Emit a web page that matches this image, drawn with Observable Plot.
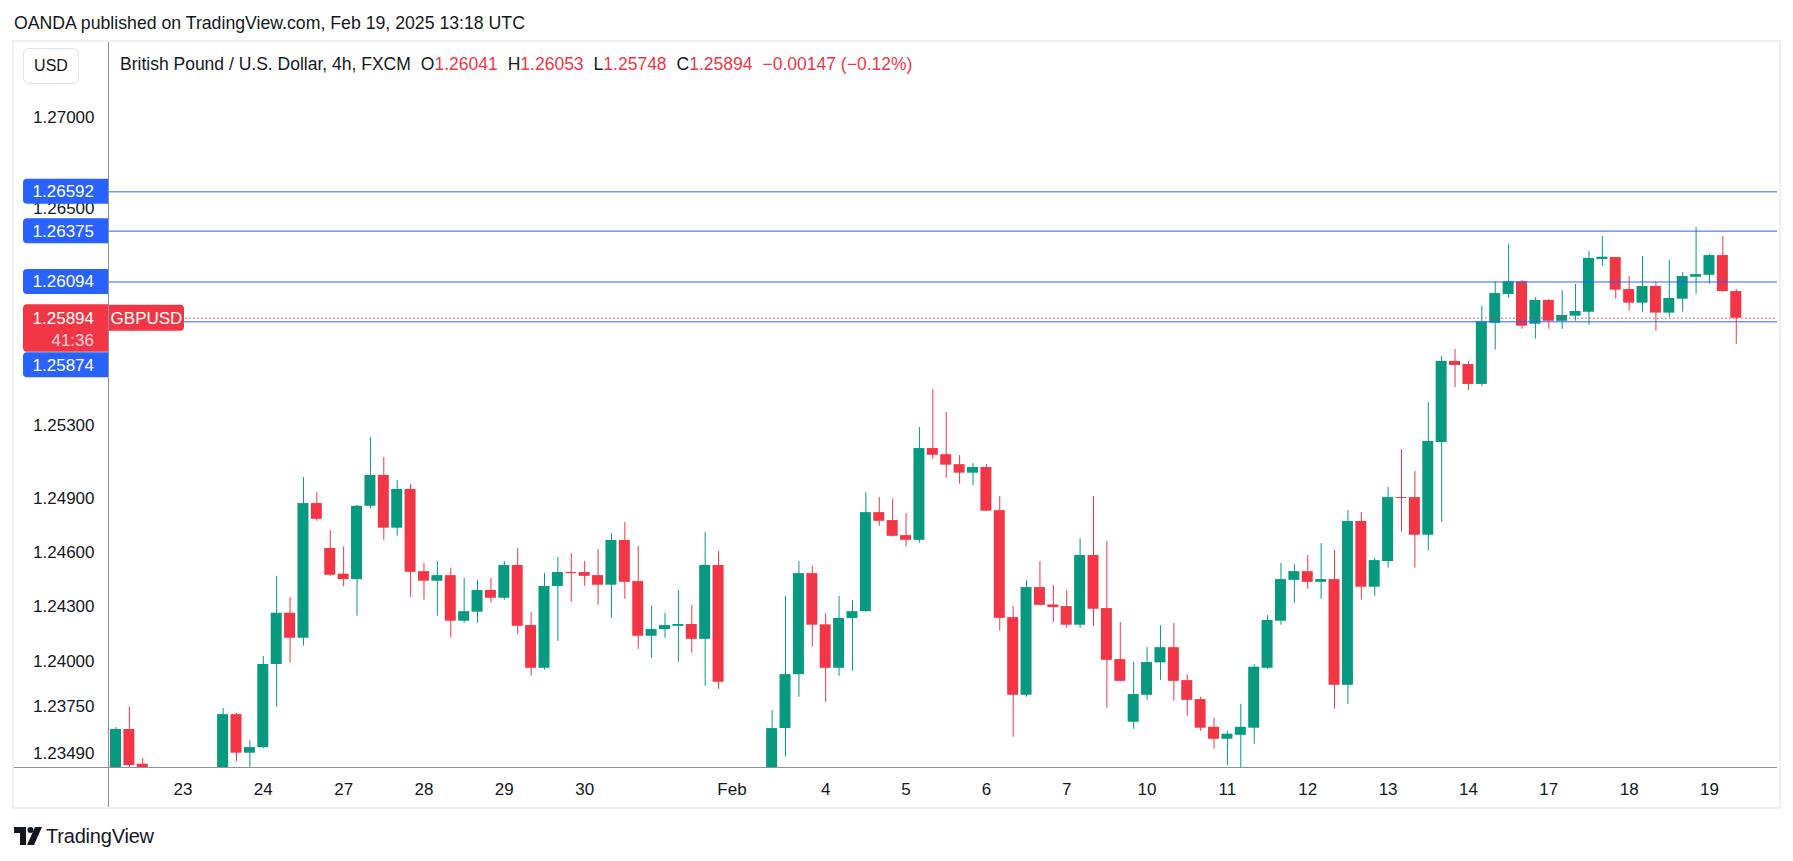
<!DOCTYPE html>
<html><head><meta charset="utf-8">
<script src="https://cdn.jsdelivr.net/npm/d3@7"></script>
<script src="https://cdn.jsdelivr.net/npm/@observablehq/plot@0.6"></script>
<style>
html,body{margin:0;padding:0;background:#fff;}
body{font-family:"Liberation Sans",Arial,sans-serif;color:#131722;}
#wrap{position:relative;width:1793px;height:861px;overflow:hidden;background:#fff;}
#pub{position:absolute;left:14px;top:12px;height:22px;line-height:22px;font-size:17.7px;white-space:nowrap;}
#frame{position:absolute;left:12px;top:40px;width:1765px;height:765px;border:2px solid #eff0f3;box-sizing:content-box;}
#chart{position:absolute;left:0;top:42px;}
#vline{position:absolute;left:108px;top:42px;width:1px;height:765px;background:#8c8f98;}
#hline{position:absolute;left:14px;top:767px;width:1763px;height:1px;background:#8c8f98;}
#usd{position:absolute;left:23px;top:48px;width:54px;height:34px;border:1px solid #e0e3eb;border-radius:6px;font-size:16px;line-height:34px;text-align:center;background:#fff;}
#legend{position:absolute;left:120px;top:53px;height:22px;line-height:22px;font-size:17.5px;white-space:nowrap;}
#legend .k{margin-left:10px;}
#legend .v{color:#f23645;}
#logo{position:absolute;left:14px;top:824px;height:24px;display:flex;align-items:center;}
#logo span{font-size:20px;margin-left:4px;color:#131722;letter-spacing:-0.2px;}
</style></head><body>
<div id="wrap">
  <div id="pub">OANDA published on TradingView.com, Feb 19, 2025 13:18 UTC</div>
  <div id="frame"></div>
  <div id="chart"></div>
  <div id="vline"></div>
  <div id="hline"></div>
  <div id="usd">USD</div>
  <div id="legend">British Pound / U.S. Dollar, 4h, FXCM<span class="k">O</span><span class="v">1.26041</span><span class="k">H</span><span class="v">1.26053</span><span class="k">L</span><span class="v">1.25748</span><span class="k">C</span><span class="v">1.25894</span><span class="v" style="margin-left:10px">−0.00147 (−0.12%)</span></div>
  <div id="logo"><svg width="28" height="18" viewBox="0 0 28 18"><path d="M0 0h12v18h-6v-12h-6z" fill="#131722"/><circle cx="16.5" cy="3" r="3" fill="#131722"/><path d="M21 0h7l-8 18h-7z" fill="#131722"/></svg><span>TradingView</span></div>
</div>
<script>
// ---- data (4h candles, GBPUSD FXCM) ----
const opens = [1.2336,1.23622,1.2343,1.2335,1.2322,1.2318,1.23,1.2312,1.233,1.23704,
1.23491,1.23522,1.23981,1.24264,1.24126,1.2487,1.24622,1.2448,1.2445,1.24855,
1.25025,1.24734,1.24948,1.24494,1.24441,1.24472,1.2422,1.2427,1.2439,1.24347,
1.24528,1.24196,1.2396,1.24412,1.24489,1.24489,1.24472,1.24419,1.24666,1.24439,
1.24137,1.24174,1.24192,1.24202,1.2412,1.24528,1.232,1.2275,1.23,1.233,
1.23627,1.23925,1.24483,1.242,1.2396,1.24235,1.24273,1.2482,1.24776,1.24693,
1.24667,1.25174,1.2514,1.25085,1.25038,1.25069,1.24831,1.2424,1.23811,1.24406,
1.2431,1.24301,1.24198,1.24583,1.2429,1.24008,1.23662,1.23811,1.2399,1.24074,
1.23892,1.23787,1.23634,1.23568,1.2359,1.23629,1.2396,1.2422,1.24446,1.24494,
1.24435,1.2445,1.23866,1.24771,1.24408,1.2455,1.24903,1.24903,1.24695,1.25207,
1.25655,1.25638,1.25528,1.25866,1.26025,1.26095,1.25861,1.25992,1.25877,1.25905,
1.25927,1.26218,1.26229,1.26052,1.25977,1.26069,1.25922,1.25999,1.2612,1.26131,
1.2624,1.26041];
const highs = [1.23633,1.23745,1.23463,1.2339,1.2334,1.233,1.2318,1.2336,1.23738,1.2371,
1.2356,1.24025,1.24468,1.24352,1.25014,1.2493,1.24721,1.2463,1.2486,1.25235,
1.25125,1.24998,1.24976,1.24539,1.2455,1.24513,1.24457,1.24445,1.24457,1.2455,
1.24621,1.24268,1.24484,1.24572,1.24594,1.2455,1.24616,1.24704,1.24765,1.24633,
1.24303,1.24264,1.2439,1.24307,1.2471,1.24605,1.2335,1.231,1.2338,1.23726,
1.24357,1.2455,1.24522,1.24262,1.24357,1.24335,1.2493,1.24903,1.24892,1.24815,
1.2529,1.255,1.25373,1.25135,1.25091,1.25085,1.24909,1.24301,1.24445,1.2455,
1.24418,1.24389,1.24676,1.24909,1.2466,1.24213,1.23993,1.24074,1.24195,1.24207,
1.23925,1.238,1.23684,1.23612,1.23761,1.2398,1.24253,1.24539,1.24533,1.24583,
1.24649,1.24611,1.24831,1.2482,1.24568,1.24959,1.25168,1.25047,1.25428,1.25682,
1.25721,1.25655,1.25959,1.26095,1.26301,1.26102,1.26008,1.25997,1.26047,1.2608,
1.26262,1.26345,1.26229,1.26124,1.26235,1.26093,1.26213,1.26146,1.26395,1.26246,
1.26345,1.26053];
const lows = [1.2332,1.2335,1.233,1.2315,1.231,1.2292,1.229,1.2305,1.2325,1.23446,
1.2338,1.23515,1.23745,1.23988,1.24082,1.24772,1.24468,1.2441,1.24248,1.2484,
1.24667,1.2469,1.24352,1.24336,1.24248,1.24131,1.24209,1.24209,1.2432,1.24336,
1.24148,1.23916,1.2395,1.24109,1.24325,1.24413,1.24308,1.24236,1.24341,1.24065,
1.24015,1.24126,1.23993,1.24043,1.23861,1.23844,1.225,1.226,1.229,1.2318,
1.2347,1.238,1.24076,1.23772,1.23916,1.23944,1.2427,1.24745,1.24685,1.24629,
1.24651,1.25115,1.2501,1.24977,1.2497,1.24826,1.24165,1.23579,1.238,1.24305,
1.24214,1.24181,1.24181,1.24192,1.23739,1.23885,1.23623,1.23783,1.23894,1.23778,
1.23695,1.23612,1.23513,1.23424,1.2339,1.2354,1.23955,1.24198,1.24319,1.24397,
1.24341,1.23734,1.23761,1.24336,1.24358,1.24513,1.24712,1.24513,1.24607,1.24767,
1.25511,1.25494,1.25517,1.25717,1.26004,1.25833,1.25778,1.25833,1.25833,1.25877,
1.25855,1.2618,1.25999,1.25933,1.25927,1.25822,1.259,1.25927,1.26026,1.26082,
1.26038,1.25748];
const closes = [1.23622,1.23423,1.2335,1.2322,1.2318,1.23,1.2312,1.233,1.23704,1.23491,
1.23522,1.23981,1.24264,1.24126,1.2487,1.24783,1.24474,1.2445,1.24855,1.25025,
1.24734,1.24948,1.2449,1.24441,1.24472,1.2422,1.24273,1.2439,1.24347,1.24528,
1.24192,1.2396,1.24412,1.24489,1.24483,1.24468,1.24419,1.24666,1.24435,1.24137,
1.24174,1.24196,1.24202,1.2412,1.24528,1.23883,1.2275,1.23,1.233,1.23627,
1.23925,1.24483,1.24198,1.2396,1.24235,1.24273,1.2482,1.24772,1.24689,1.24667,
1.25174,1.25137,1.25082,1.25038,1.25069,1.24828,1.24236,1.23811,1.24406,1.24308,
1.24295,1.24198,1.24583,1.24286,1.24004,1.23888,1.23815,1.23992,1.24074,1.23888,
1.23783,1.23629,1.23568,1.23596,1.23634,1.23966,1.24224,1.2445,1.24494,1.24435,
1.2445,1.23866,1.24771,1.24408,1.24555,1.24903,1.24898,1.24695,1.25213,1.25655,
1.25633,1.25528,1.25874,1.2603,1.26095,1.2585,1.25992,1.25877,1.25909,1.25931,
1.26224,1.26231,1.26049,1.25977,1.26069,1.25922,1.26003,1.26124,1.26135,1.2624,
1.26041,1.25894];
const xTickIndex = [5,11,17,23,29,35,46,53,59,65,71,77,83,89,95,101,107,113,119];
const xTickLabels = ["23","24","27","28","29","30","Feb","4","5","6","7","10","11","12","13","14","17","18","19"];
const yTicks = [1.27, 1.265, 1.253, 1.249, 1.246, 1.243, 1.24, 1.2375, 1.2349];
const levels = [1.26592, 1.26375, 1.26094, 1.25874];
const lastPrice = 1.25894;
const countdown = "41:36";
const symbol = "GBPUSD";

const UP = "#089981", DOWN = "#f23645", BLUE = "#2962ff";
const candles = opens.map((o, i) => ({i, o, h: highs[i], l: lows[i], c: closes[i]}));
const col = d => d.c >= d.o ? UP : DOWN;
const fmt = d3.format(".5f");

const plot = Plot.plot({
  width: 1793, height: 765,
  marginLeft: 109, marginRight: 16, marginTop: 0, marginBottom: 40,
  style: {fontFamily: "'Liberation Sans', Arial, sans-serif", fontSize: "17px", color: "#131722", background: "transparent", overflow: "visible"},
  x: {domain: [-0.485, 124.08], ticks: xTickIndex, tickFormat: d => xTickLabels[xTickIndex.indexOf(d)], tickSize: 0, tickPadding: 15, label: null},
  y: {domain: [1.23412, 1.27417], ticks: yTicks, tickFormat: fmt, tickSize: 0, tickPadding: 15, label: null},
  marks: [
    Plot.ruleX(candles, {x: "i", y1: "l", y2: "h", stroke: col, strokeWidth: 1, clip: true}),
    Plot.rect(candles, {x1: d => d.i - 0.41, x2: d => d.i + 0.41, y1: "o", y2: "c", fill: col, clip: true}),
    Plot.ruleY(levels, {y: d => d, stroke: BLUE, strokeWidth: 1}),
    Plot.ruleY([lastPrice], {y: d => d, stroke: DOWN, strokeWidth: 1, strokeDasharray: "1.5,2.5"})
  ]
});
document.getElementById("chart").appendChild(plot);

// price-scale badges, placed with the plot's own y scale
const ys = plot.scale("y");
const svg = d3.select(plot);
const g = svg.append("g").attr("font-family", "'Liberation Sans', Arial, sans-serif").attr("font-size", 17);
const xL = 23, xR = 108, r = 4;
function leftBox(top, bot, fill) {
  g.append("path").attr("fill", fill)
    .attr("d", `M${xR},${top}H${xL + r}Q${xL},${top} ${xL},${top + r}V${bot - r}Q${xL},${bot} ${xL + r},${bot}H${xR}Z`);
}
const cyLast = ys.apply(lastPrice);
const redTop = cyLast - 13.5, redBot = cyLast + 34;
levels.forEach(L => {
  let cy = ys.apply(L), top = cy - 12.5, bot = cy + 12.5;
  if (bot > redTop && top < redBot) { top = redBot + 0.5; bot = top + 25; cy = top + 12.5; }
  leftBox(top, bot, BLUE);
  g.append("text").attr("x", 94).attr("y", cy).attr("dy", "0.35em").attr("text-anchor", "end").attr("fill", "#fff").text(fmt(L));
});
leftBox(redTop, redBot, DOWN);
g.append("text").attr("x", 94).attr("y", cyLast).attr("dy", "0.35em").attr("text-anchor", "end").attr("fill", "#fff").text(fmt(lastPrice));
g.append("text").attr("x", 94).attr("y", cyLast + 22).attr("dy", "0.35em").attr("text-anchor", "end").attr("fill", "#fff").attr("fill-opacity", 0.8).text(countdown);
// symbol label on the right of the price scale
const sx1 = 109, sx2 = 184;
g.append("path").attr("fill", DOWN)
  .attr("d", `M${sx1},${cyLast - 13}H${sx2 - r}Q${sx2},${cyLast - 13} ${sx2},${cyLast - 13 + r}V${cyLast + 13 - r}Q${sx2},${cyLast + 13} ${sx2 - r},${cyLast + 13}H${sx1}Z`);
g.append("text").attr("x", (sx1 + sx2) / 2).attr("y", cyLast).attr("dy", "0.35em").attr("text-anchor", "middle").attr("fill", "#fff").text(symbol);
</script>
</body></html>
